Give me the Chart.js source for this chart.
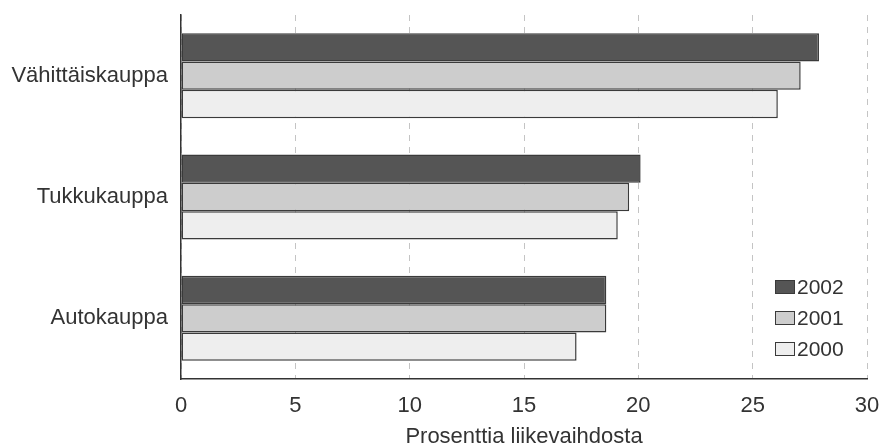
<!DOCTYPE html>
<html>
<head>
<meta charset="utf-8">
<script src="https://cdn.jsdelivr.net/npm/chart.js@4"></script>
<style>
    html, body { margin: 0; padding: 0; background: #fff; }
    #wrap { width: 881px; height: 448px; }
</style>
</head>
<body>
<div id="wrap"><canvas id="myChart" width="881" height="448"></canvas></div>
<script>
const categories = ['Vähittäiskauppa', 'Tukkukauppa', 'Autokauppa'];
const years = ['2002', '2001', '2000'];
const values2002 = [27.9, 20.1, 18.6];
const values2001 = [27.1, 19.6, 18.6];
const values2000 = [26.1, 19.1, 17.3];
const xTicks = [0, 5, 10, 15, 20, 25, 30];
const axisTitle = 'Prosenttia liikevaihdosta';

const fills = ['#555555', '#cdcdcd', '#eeeeee'];
const FONT = 'Liberation Sans, Arial, sans-serif';

// legend drawn inside the plot, lower right
const insideLegend = {
    id: 'insideLegend',
    afterDraw: (chart) => {
        const ctx = chart.ctx;
        const area = chart.chartArea;
        ctx.save();
        ctx.font = '21px ' + FONT;
        ctx.textBaseline = 'middle';
        chart.data.datasets.forEach((ds, i) => {
            const y = area.bottom - 92 + i * 31;
            const x = area.right - 92;
            ctx.fillStyle = ds.backgroundColor;
            ctx.fillRect(x, y - 7, 20, 14);
            ctx.strokeStyle = '#3a3a3a';
            ctx.lineWidth = 1;
            ctx.strokeRect(x + 0.5, y - 6.5, 19, 13);
            ctx.fillStyle = '#333';
            ctx.fillText(ds.label, x + 22, y + 1);
        });
        ctx.restore();
    }
};

const makeSet = (label, data, i) => ({
    label: label,
    data: data,
    backgroundColor: fills[i],
    borderColor: '#3a3a3a',
    borderWidth: 1.5,
    borderSkipped: false,
    categoryPercentage: 0.7,
    barPercentage: 1.0,
});

new Chart(document.getElementById('myChart'), {
    type: 'bar',
    data: {
        labels: categories,
        datasets: [
            makeSet(years[0], values2002, 0),
            makeSet(years[1], values2001, 1),
            makeSet(years[2], values2000, 2),
        ]
    },
    plugins: [insideLegend],
    options: {
        indexAxis: 'y',
        responsive: false,
        animation: false,
        layout: { padding: { top: 15, right: 14, left: 0, bottom: 0 } },
        plugins: {
            legend: { display: false },
            tooltip: { enabled: false },
        },
        scales: {
            x: {
                min: 0,
                max: 30,
                afterBuildTicks: (scale) => {
                    scale.ticks = xTicks.map(v => ({ value: v }));
                },
                afterFit: (scale) => {
                    scale.height = 69;
                    scale.paddingLeft = 0;
                    scale.paddingRight = 0;
                },
                grid: {
                    display: true,
                    color: '#c4c4c4',
                    lineWidth: 1,
                    drawTicks: false,
                },
                border: { display: true, color: '#333', width: 1.5, dash: [6, 6] },
                ticks: {
                    padding: 14,
                    color: '#333',
                    font: { family: FONT, size: 22 },
                },
                title: {
                    display: true,
                    text: axisTitle,
                    color: '#333',
                    font: { family: FONT, size: 22, lineHeight: 1.0 },
                    padding: { top: 0, bottom: 0 },
                }
            },
            y: {
                afterFit: (scale) => {
                    scale.width = 181;
                    scale.paddingTop = 0;
                    scale.paddingBottom = 0;
                },
                grid: { display: false, drawTicks: false },
                border: { display: true, color: '#333', width: 1.5 },
                ticks: {
                    padding: 13,
                    color: '#333',
                    font: { family: FONT, size: 22 },
                }
            }
        }
    }
});
</script>
</body>
</html>
